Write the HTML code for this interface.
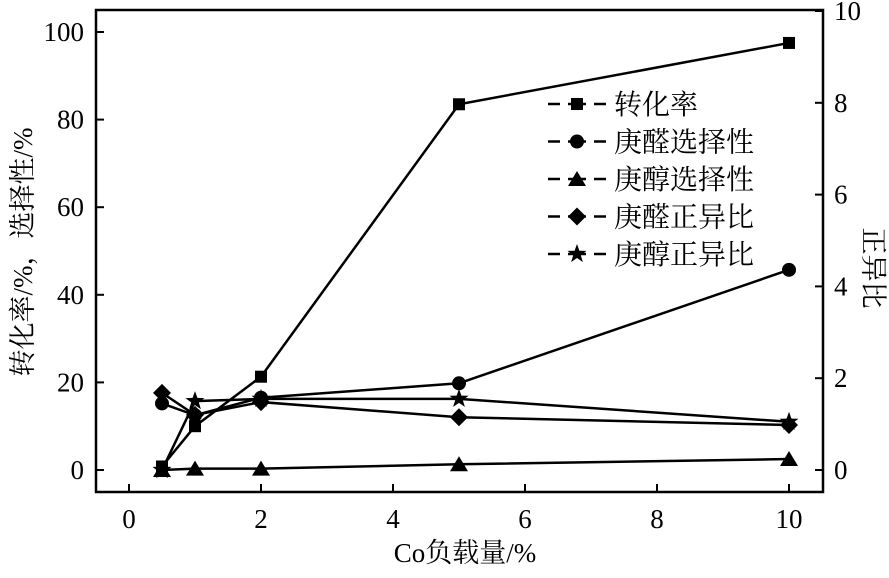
<!DOCTYPE html>
<html><head><meta charset="utf-8"><style>
body{margin:0;background:#fff}
svg text{font-family:"Liberation Serif","Noto Serif CJK SC",serif;fill:#000}
</style></head><body>
<svg width="889" height="573" viewBox="0 0 889 573">
<g id="root"></g>
</svg>
<script>
const xs=[0.5,1,2,5,10];
const conv=[0.8,10,21.3,83.5,97.5];
const aldSel=[15.2,12.5,16.5,19.8,45.7];
const alcSel=[0,0.3,0.3,1.3,2.5];
const aldRatio=[1.68,1.2,1.48,1.15,0.98];
const alcRatio=[0,1.5,1.55,1.55,1.05];
const xTicks=[0,2,4,6,8,10];
const yTicks=[0,20,40,60,80,100];
const y2Ticks=[0,2,4,6,8,10];
const legendNames=["转化率","庚醛选择性","庚醇选择性","庚醛正异比","庚醇正异比"];
const NS="http://www.w3.org/2000/svg";
const root=document.getElementById('root');
const X=v=>129+v*66;
const Y=v=>470-v*4.38;
const Y2=v=>470-v*45.9;
function el(t,a,p){const e=document.createElementNS(NS,t);for(const k in a)e.setAttribute(k,a[k]);(p||root).appendChild(e);return e;}
// frame
const fr=el('rect',{x:96,y:10,width:727,height:482,fill:'none',stroke:'#000','stroke-width':2.5});


xTicks.forEach(v=>{
 const l=el('line',{x1:X(v),x2:X(v),y1:492,y2:484,stroke:'#000','stroke-width':2});
 
 
 const t=el('text',{x:X(v),y:528,'font-size':27,'text-anchor':'middle'});t.textContent=v;
 
 
});
yTicks.forEach(v=>{
 const l=el('line',{x1:96,x2:104,y1:Y(v),y2:Y(v),stroke:'#000','stroke-width':2});
 
 
 const t=el('text',{x:84,y:Y(v)+9,'font-size':27,'text-anchor':'end'});t.textContent=v;
 
 
});
y2Ticks.forEach(v=>{
 const l=el('line',{x1:815,x2:823,y1:Y2(v),y2:Y2(v),stroke:'#000','stroke-width':2});
 
 
 const t=el('text',{x:834,y:Y2(v)+9,'font-size':27,'text-anchor':'start'});t.textContent=v;
 
 
});
let t=el('text',{x:465,y:562,'font-size':27,'text-anchor':'middle'});t.textContent='Co负载量/%';


t=el('text',{x:0,y:0,'font-size':27,'text-anchor':'middle',transform:'translate(32,252) rotate(-90)'});t.textContent='转化率/%，选择性/%';


t=el('text',{x:0,y:0,'font-size':27,'text-anchor':'middle',transform:'translate(864,268) rotate(90)'});t.textContent='正异比';


function marker(kind,cx,cy,g){
 if(kind==='sq')return el('rect',{x:cx-6,y:cy-6,width:12,height:12,fill:'#000'},g);
 if(kind==='ci')return el('circle',{cx,cy,r:7,fill:'#000'},g);
 if(kind==='tr')return el('polygon',{points:`${cx},${cy-8} ${cx+9},${cy+7} ${cx-9},${cy+7}`,fill:'#000'},g);
 if(kind==='di')return el('polygon',{points:`${cx},${cy-9} ${cx+9},${cy} ${cx},${cy+9} ${cx-9},${cy}`,fill:'#000'},g);
 let p=[];for(let i=0;i<10;i++){const r=i%2?4:10,a=-Math.PI/2+i*Math.PI/5;p.push((cx+r*Math.cos(a)).toFixed(1)+','+(cy+r*Math.sin(a)).toFixed(1));}
 return el('polygon',{points:p.join(' '),fill:'#000'},g);
}
const series=[[conv,Y,'sq','series-conversion'],[aldSel,Y,'ci','series-heptanal-selectivity'],[alcSel,Y,'tr','series-heptanol-selectivity'],[aldRatio,Y2,'di','series-heptanal-ratio'],[alcRatio,Y2,'st','series-heptanol-ratio']];
series.forEach(([d,yf,k,n])=>{
 const g=el('g',{});
 
 
 el('polyline',{points:xs.map((x,i)=>X(x)+','+yf(d[i])).join(' '),fill:'none',stroke:'#000','stroke-width':2.5},g);
 xs.forEach((x,i)=>{const m=marker(k,X(x),yf(d[i]),g);
  
  });
});
const lg=el('g',{});


const kinds=['sq','ci','tr','di','st'];
legendNames.forEach((nm,i)=>{
 const cy=104+i*37.5;
 const g=el('g',{},lg);
 
 
 el('line',{x1:548,x2:606,y1:cy,y2:cy,stroke:'#000','stroke-width':2.5},g);
 el('rect',{x:560,y:cy-4,width:8,height:8,fill:'#fff'},g);
 el('rect',{x:586,y:cy-4,width:8,height:8,fill:'#fff'},g);
 marker(kinds[i],577,cy,g);
 const tx=el('text',{x:614,y:cy+10,'font-size':28},g);tx.textContent=nm;
});
</script>
</body></html>
